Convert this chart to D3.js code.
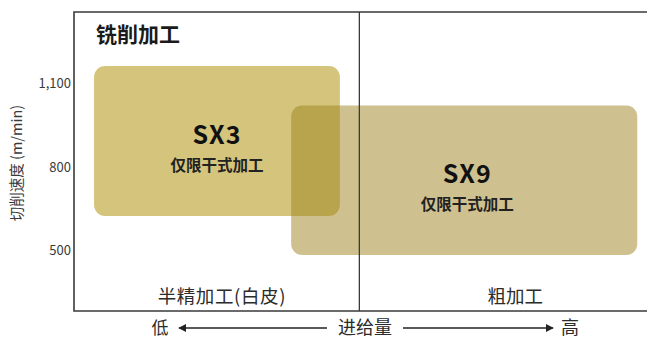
<!DOCTYPE html>
<html>
<head>
<meta charset="utf-8">
<script src="https://cdn.jsdelivr.net/npm/d3@7"></script>
<style>
  body { margin: 0; background: #fff; }
  text { font-family: "Noto Sans CJK SC", "Noto Sans", sans-serif; fill: #2b2b2b; }
</style>
</head>
<body>
<svg id="chart" width="647" height="340"></svg>
<script>
// cutting speed ticks (m/min)
var speedTicks = [500, 800, 1100];
// grades: feed range (0-100, low->high) and speed range
var grades = ['SX3', 'SX9'];
var feedLo = [3.5, 37.9];
var feedHi = [46.4, 98.3];
var speedLo = [622, 482];
var speedHi = [1161, 1019];
var gradeNote = ['仅限干式加工', '仅限干式加工'];
// machining zones along the feed axis
var zoneNames = ['半精加工(白皮)', '粗加工'];
var zoneCenter = [25.8, 77.0];
var zoneSplit = 49.8;

var svg = d3.select('#chart');
var plotL = 74, plotR = 647, plotT = 12, plotB = 311;

var x = d3.scaleLinear().domain([0, 100]).range([plotL, plotR]);
var y = d3.scaleLinear().domain([500, 1100]).range([250, 83]);

var fills = ['#d4c47c', 'rgba(158,132,32,0.5)'];

// boxes
var g = svg.append('g');
g.selectAll('rect.grade')
    .data(grades)
  .enter().append('rect')
    .attr('class', 'grade')
    .attr('x', function (d, i) { return x(feedLo[i]); })
    .attr('y', function (d, i) { return y(speedHi[i]); })
    .attr('width', function (d, i) { return x(feedHi[i]) - x(feedLo[i]); })
    .attr('height', function (d, i) { return y(speedLo[i]) - y(speedHi[i]); })
    .attr('rx', 11)
    .attr('fill', function (d, i) { return fills[i]; });

// frame
var frame = svg.append('g').attr('stroke', '#3a3a3a').attr('stroke-width', 1.6).attr('fill', 'none');
frame.append('path').attr('d', 'M' + plotR + ',' + plotT + 'H' + plotL + 'V' + plotB + 'H' + plotR);
frame.append('line')
    .attr('x1', x(zoneSplit)).attr('x2', x(zoneSplit))
    .attr('y1', plotT).attr('y2', plotB)
    .attr('stroke-width', 1.3);

// title
svg.append('text').attr('x', 96).attr('y', 42)
    .attr('font-size', 21).attr('font-weight', 700).style('fill', '#1a1a1a')
    .text('铣削加工');

// grade labels
grades.forEach(function (name, i) {
    var cx = x((feedLo[i] + feedHi[i]) / 2) + (i === 1 ? 3 : 0);
    var cy = y((speedLo[i] + speedHi[i]) / 2);
    svg.append('text').attr('x', cx).attr('y', cy + 3)
        .attr('text-anchor', 'middle').attr('font-size', 25).attr('font-weight', 700)
        .attr('letter-spacing', 1)
        .style('fill', '#111')
        .text(name);
    svg.append('text').attr('x', cx).attr('y', cy + 30)
        .attr('text-anchor', 'middle').attr('font-size', 15.5).attr('font-weight', 700)
        .style('fill', '#222')
        .text(gradeNote[i]);
});

// y axis ticks
svg.selectAll('text.tick')
    .data(speedTicks)
  .enter().append('text')
    .attr('class', 'tick')
    .attr('x', 71).attr('y', function (d) { return y(d) + 5; })
    .attr('text-anchor', 'end').attr('font-size', 13)
    .style('fill', '#3a3a3a')
    .text(d3.format(','));

svg.append('text')
    .attr('transform', 'translate(22,' + 163 + ') rotate(-90)')
    .attr('text-anchor', 'middle').attr('font-size', 14.5)
    .style('fill', '#3a3a3a')
    .text('切削速度 (m/min)');

// zone labels
svg.selectAll('text.zone')
    .data(zoneNames)
  .enter().append('text')
    .attr('class', 'zone')
    .attr('x', function (d, i) { return x(zoneCenter[i]); })
    .attr('y', 303)
    .attr('text-anchor', 'middle').attr('font-size', 18.5)
    .attr('letter-spacing', function (d, i) { return i === 0 ? 0.6 : 0; })
    .text(function (d) { return d; });

// feed axis
var defs = svg.append('defs');
defs.append('marker').attr('id', 'head').attr('viewBox', '0 0 10 10')
    .attr('refX', 9).attr('refY', 5).attr('markerWidth', 8).attr('markerHeight', 9)
    .attr('markerUnits', 'userSpaceOnUse').attr('orient', 'auto')
  .append('path').attr('d', 'M0,0L10,5L0,10Z').attr('fill', '#222');

var ay = 328;
svg.append('line').attr('x1', 327).attr('x2', 179).attr('y1', ay).attr('y2', ay)
    .attr('stroke', '#222').attr('stroke-width', 1.3).attr('marker-end', 'url(#head)');
svg.append('line').attr('x1', 403).attr('x2', 553).attr('y1', ay).attr('y2', ay)
    .attr('stroke', '#222').attr('stroke-width', 1.3).attr('marker-end', 'url(#head)');

svg.append('text').attr('x', 160).attr('y', ay + 6).attr('text-anchor', 'middle')
    .attr('font-size', 17).text('低');
svg.append('text').attr('x', 365).attr('y', ay + 6).attr('text-anchor', 'middle')
    .attr('font-size', 18).text('进给量');
svg.append('text').attr('x', 570).attr('y', ay + 6).attr('text-anchor', 'middle')
    .attr('font-size', 18).text('高');
</script>
</body>
</html>
